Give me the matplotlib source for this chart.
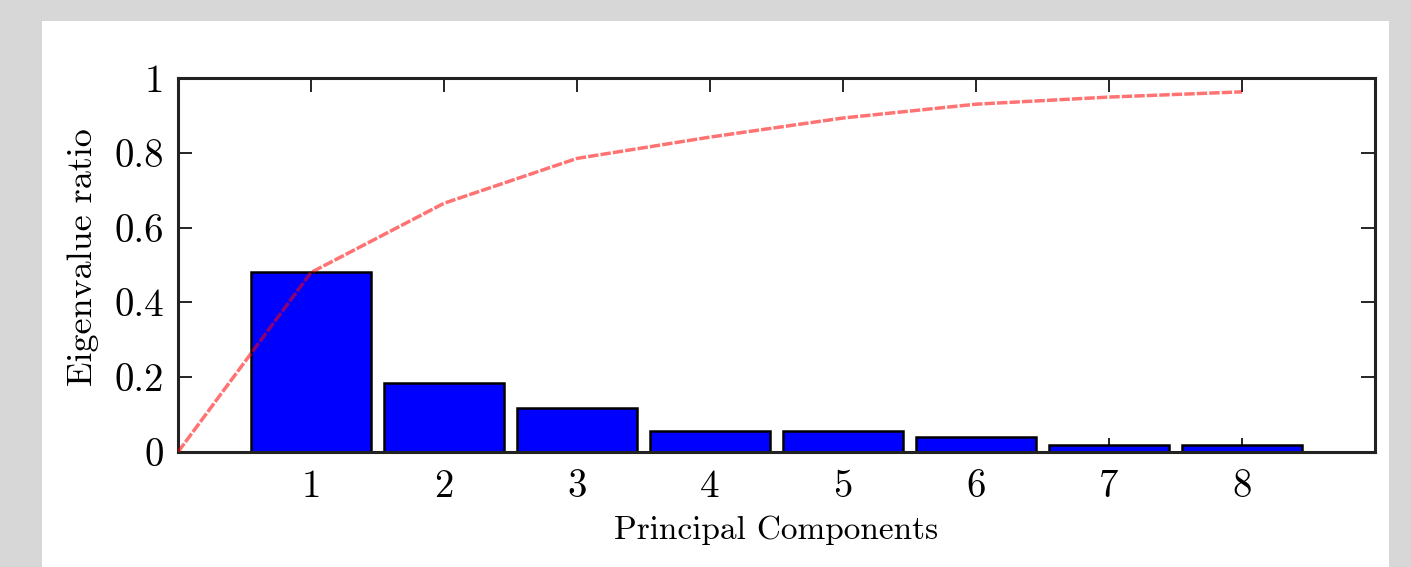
import matplotlib
matplotlib.use("Agg")
import matplotlib.pyplot as plt
from matplotlib.patches import Rectangle

plt.rcParams['font.family'] = 'cmr10'
plt.rcParams['mathtext.fontset'] = 'cm'
plt.rcParams['axes.unicode_minus'] = False

components = [1, 2, 3, 4, 5, 6, 7, 8]
ratios = [0.481, 0.184, 0.118, 0.056, 0.056, 0.040, 0.018, 0.018]
cum_x = [0, 1, 2, 3, 4, 5, 6, 7, 8]
cum_ratio = [0, 0.48, 0.665, 0.785, 0.842, 0.893, 0.930, 0.949, 0.963]
yticks = [0, 0.2, 0.4, 0.6, 0.8, 1]
ytick_labels = ["0", "0.2", "0.4", "0.6", "0.8", "1"]

fig = plt.figure(figsize=(14.11, 5.67), dpi=100)
fig.patch.set_facecolor('#d7d7d7')
# white page behind the plot
fig.patches.append(Rectangle((42 / 1411, 0), (1389 - 42) / 1411, (567 - 21) / 567,
                             transform=fig.transFigure, facecolor='white',
                             edgecolor='none', zorder=-5))

ax = fig.add_axes([178 / 1411, (567 - 452) / 567, (1375 - 178) / 1411, (452 - 78) / 567])
ax.set_facecolor('white')

ax.bar(components, ratios, width=0.9, color='#0000ff', edgecolor='black', linewidth=1.8, zorder=2)
ax.plot(cum_x, cum_ratio, color='red', alpha=0.55, linewidth=2.5,
        linestyle=(0, (3, 0.6)), zorder=3)

ax.set_xlim(0, 9)
ax.set_ylim(0, 1)
ax.set_xticks(components)
ax.set_xticklabels([str(c) for c in components])
ax.set_yticks(yticks)
ax.set_yticklabels(ytick_labels)

ax.tick_params(direction='in', top=True, right=True, length=10, width=1.2,
               labelsize=28, colors='black')
ax.tick_params(axis='x', pad=12)
ax.tick_params(axis='y', pad=10)
for s in ax.spines.values():
    s.set_linewidth(2.2)
    s.set_color('#222222')

ax.set_xlabel("Principal Components", fontsize=24, labelpad=8)
ax.set_ylabel("Eigenvalue ratio", fontsize=26, labelpad=8)
ax.yaxis.set_label_coords(-0.066, 0.52)

fig.savefig("out.png", dpi=100, facecolor=fig.get_facecolor())
